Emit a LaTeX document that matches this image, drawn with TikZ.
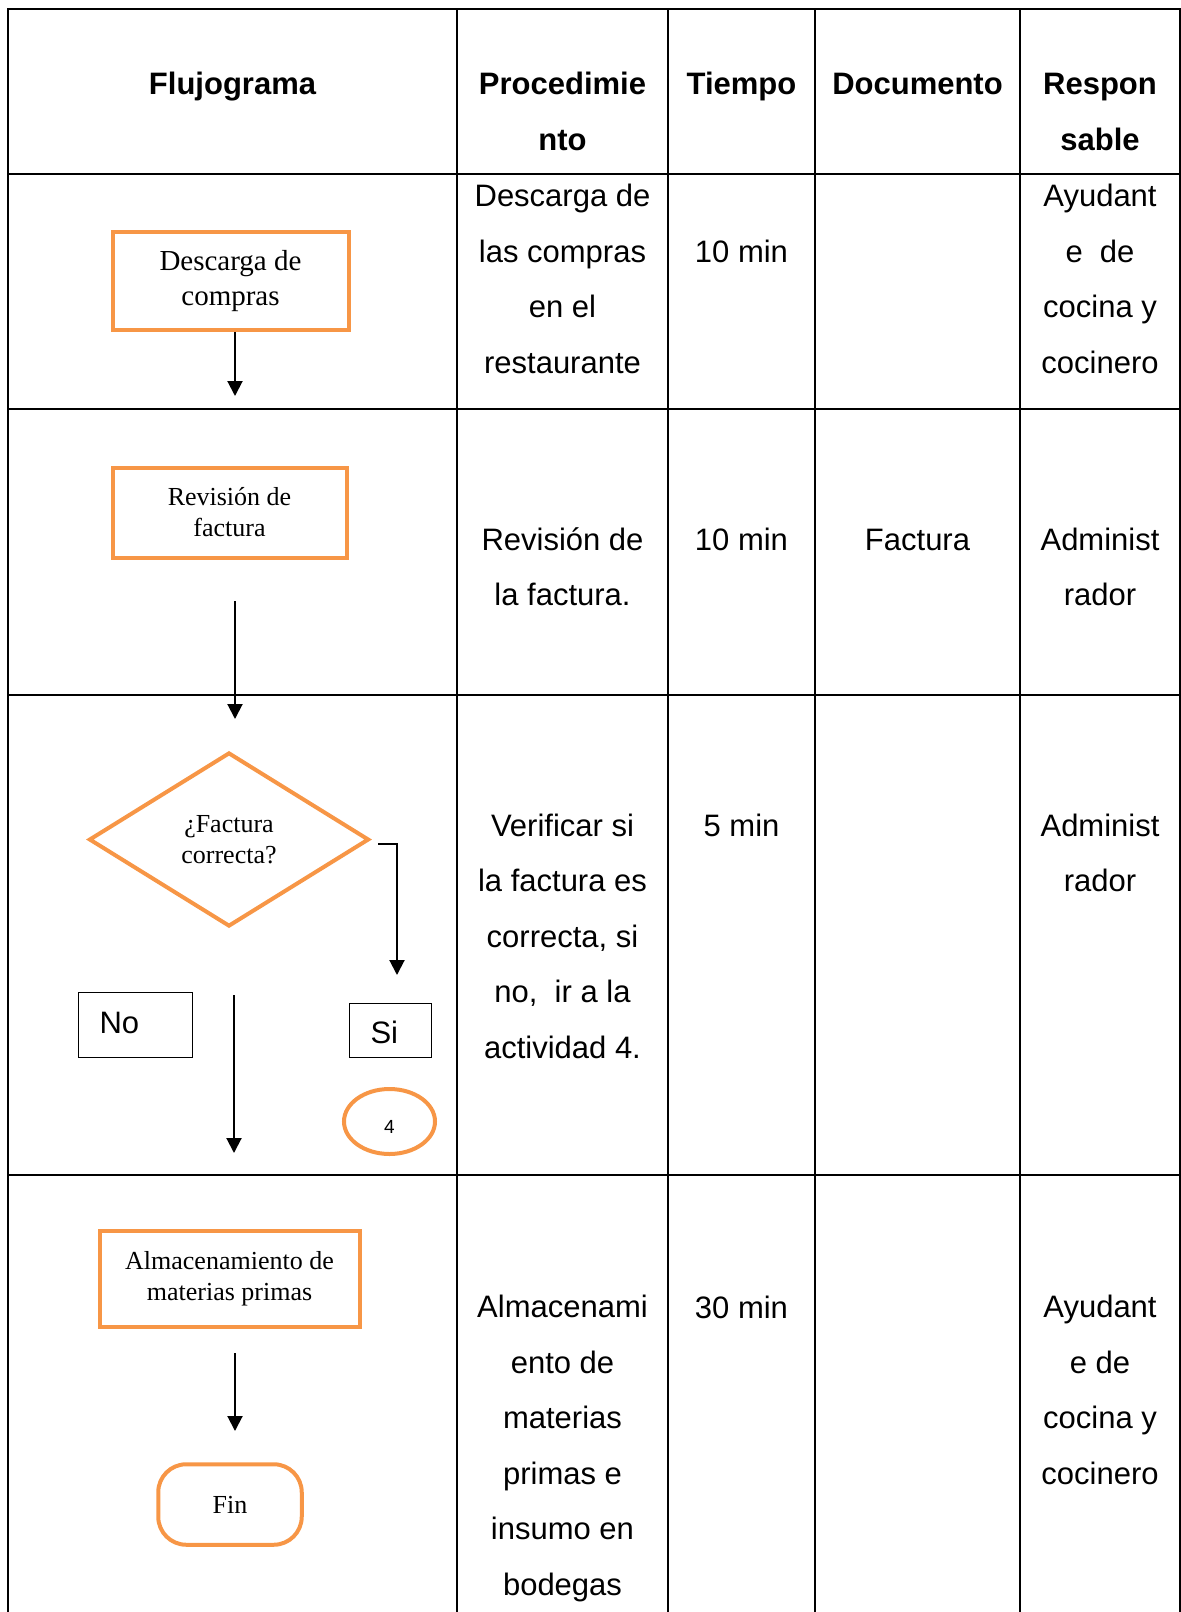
\documentclass[tikz,border=0pt]{standalone}
\usepackage{fontspec}
\setmainfont{Liberation Sans}
\newfontfamily\flowfont{Liberation Serif}
\usepackage{xcolor}
\usetikzlibrary{arrows.meta, shapes.geometric}

\definecolor{naranja}{HTML}{F79646}

% base = linea base de la ultima linea
\tikzset{
	celda/.style={anchor=base, align=center, inner sep=0pt, font=\fontsize{15.5}{27.75}\selectfont},
	cabecera/.style={celda, font=\fontsize{15.5}{27.75}\selectfont\bfseries},
	proceso/.style={rectangle, draw=naranja, line width=2pt, inner sep=0pt, align=center, font=\flowfont\fontsize{13}{15.5}\selectfont},
	decision/.style={proceso, diamond},
	etiqueta/.style={rectangle, draw, line width=0.9pt, inner sep=0pt, align=left, font=\fontsize{15.5}{18}\selectfont},
	flecha/.style={line width=1pt, -{Triangle[length=7.5pt, width=7.5pt]}},
}

\begin{document}
\begin{tikzpicture}[x=0.5pt, y=-0.5pt]
			\useasboundingbox (0,0) rectangle (1181,1612);

			% tabla
			\begin{scope}[line width=1pt, line cap=rect]
				\foreach \x in {8,457,668,815,1020,1180}
					\draw (\x,9) -- (\x,1612);
				\foreach \y in {9,174,409,695,1175}
					\draw (8,\y) -- (1180,\y);
			\end{scope}

			% cabecera
			\begin{scope}
				\node [cabecera] (hflujo) at (232.5,94.5) {Flujograma};
				\node [cabecera] (hproc) at (562.5,150) {Procedimie\\nto};
				\node [cabecera] (htiempo) at (741.5,94.5) {Tiempo};
				\node [cabecera] (hdoc) at (917.5,94.5) {Documento};
				\node [cabecera] (hresp) at (1100,150) {Respon\\sable};
			\end{scope}

			% filas
			\begin{scope}
				\node [celda] (proc1) at (562.5,373) {Descarga de\\las compras\\en el\\restaurante};
				\node [celda] (tiempo1) at (741.5,262) {10 min};
				\node [celda] (resp1) at (1100,373) {Ayudant\\e\ \ de\\cocina y\\cocinero};

				\node [celda] (proc2) at (562.5,605.5) {Revisión de\\la factura.};
				\node [celda] (tiempo2) at (741.5,550) {10 min};
				\node [celda] (doc2) at (917.5,550) {Factura};
				\node [celda] (resp2) at (1100,605.5) {Administ\\rador};

				\node [celda] (proc3) at (562.5,1058) {Verificar si\\la factura es\\correcta, si\\no,\ \ ir a la\\actividad 4.};
				\node [celda] (tiempo3) at (741.5,836) {5 min};
				\node [celda] (resp3) at (1100,891.5) {Administ\\rador};

				\node [celda] (proc4) at (562.5,1595) {Almacenami\\ento de\\materias\\primas e\\insumo en\\bodegas};
				\node [celda] (tiempo4) at (741.5,1318) {30 min};
				\node [celda] (resp4) at (1100,1484) {Ayudant\\e de\\cocina y\\cocinero};
			\end{scope}

			% flujograma
			\node [proceso, minimum width=118pt, minimum height=48.75pt, font=\flowfont\fontsize{14.5}{17.5}\selectfont] (descarga) at (230.5,281) {Descarga de\\compras};
			\node [proceso, minimum width=117pt, minimum height=45pt] (revision) at (229.5,512.5) {Revisión de\\factura};
			\node [decision, minimum width=140pt, minimum height=87pt] (factura) at (229,839.5) {¿Factura\\correcta?};
			\node [etiqueta, minimum width=57pt, minimum height=32.5pt, text width=36pt, inner xsep=10.5pt, text height=11pt, text depth=3pt] (no) at (135.5,1025) {No};
			\node [etiqueta, minimum width=41pt, minimum height=27pt, text width=20pt, inner xsep=10.5pt, text height=12.5pt, text depth=0pt] (si) at (390.5,1030.5) {Si};
			\node [proceso, ellipse, minimum width=45.5pt, minimum height=32.5pt, font=\fontsize{9.5}{11}\selectfont, text height=11.5pt, text depth=0pt] (cuatro) at (389.5,1121.5) {4};
			\node [proceso, minimum width=130pt, minimum height=47.75pt] (almacen) at (229.5,1279) {Almacenamiento de\\materias primas};
			\node [proceso, rounded corners=14pt, minimum width=71.75pt, minimum height=40.25pt] (fin) at (230,1504.5) {Fin};

			\coordinate (f1) at (235,396);
			\coordinate (f2a) at (235,601);
			\coordinate (f2b) at (235,719);
			\coordinate (fsi) at (397,975);
			\coordinate (fno1) at (234,995);
			\coordinate (fno2) at (234,1153);
			\coordinate (f4a) at (235,1353);
			\coordinate (f4b) at (235,1431);

			\begin{scope}[flecha]
				\draw (descarga.south -| f1) -- (f1);
				\draw (f2a) -- (f2b);
				\draw ([xshift=3.5pt, yshift=-2pt]factura.east) -| (fsi);
				\draw (fno1) -- (fno2);
				\draw (f4a) -- (f4b);
			\end{scope}
		\end{tikzpicture}
\end{document}
